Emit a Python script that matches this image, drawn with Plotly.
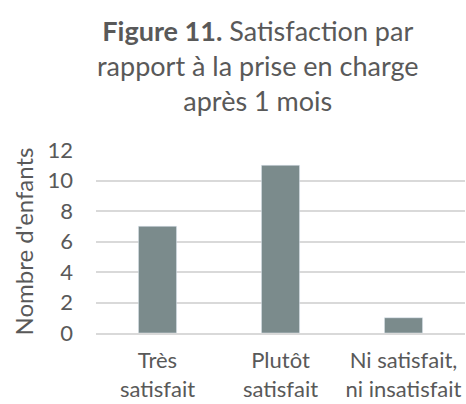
import plotly.graph_objects as go

categories = ["Très<br>satisfait", "Plutôt<br>satisfait", "Ni satisfait,<br>ni insatisfait"]
values = [7, 11, 1]
y_ticks = [0, 2, 4, 6, 8, 10, 12]

FONT = "Lato"
GREY = "#595959"

fig = go.Figure(go.Bar(x=categories, y=values, marker_color="#7b8b8c", width=0.31))

fig.update_layout(
    width=466, height=404,
    paper_bgcolor="white", plot_bgcolor="white",
    margin=dict(l=96, r=1, t=150, b=71),
    font=dict(family=FONT, color=GREY, size=22),
    showlegend=False,
)
fig.add_annotation(
    text="<b>Figure 11.</b> Satisfaction par<br>rapport à la prise en charge<br>après 1 mois",
    xref="paper", yref="paper", x=0.439, y=1.755, xanchor="center", yanchor="top",
    showarrow=False, align="center",
    font=dict(family=FONT, size=27, color=GREY),
)
fig.update_yaxes(
    range=[0, 12], tickvals=y_ticks, showgrid=True, gridcolor="#d9d9d9", gridwidth=1.5,
    zeroline=False, showline=False, ticks="", ticklabelstandoff=22, automargin=False,
    title=dict(text="Nombre d'enfants", font=dict(size=24, color=GREY), standoff=7),
)
fig.update_xaxes(showline=True, linecolor="#d9d9d9", linewidth=1.5, ticks="",
                 ticklabelstandoff=7, automargin=False)

fig.write_html("out.html", config={"displayModeBar": False},
               post_script="document.body.style.margin='0';")
